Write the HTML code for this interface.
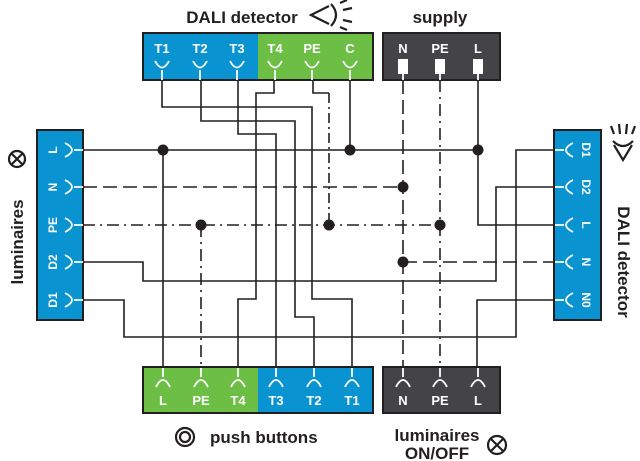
<!DOCTYPE html>
<html><head><style>
html,body{margin:0;padding:0;background:#fff;}
svg{display:block;}
text{font-family:"Liberation Sans",sans-serif;font-weight:bold;}
</style></head><body>
<svg width="640" height="461" viewBox="0 0 640 461" xmlns="http://www.w3.org/2000/svg">
<g fill="none" stroke="#231f20" stroke-width="1.6">
<polyline points="162,80 162,107 312,107 312,299 352,299 352,367"/>
<polyline points="201,80 201,121 295,121 295,317 314,317 314,367"/>
<polyline points="238,80 238,134 276,134 276,367"/>
<polyline points="274,80 274,93 256,93 256,299 238,299 238,367"/>
<polyline points="313,80 313,93 329,93"/>
<line x1="329" y1="93" x2="329" y2="225" stroke-dasharray="10,4,2,4"/>
<polyline points="350,80 350,150"/>
<line x1="83" y1="150" x2="478" y2="150"/>
<line x1="163" y1="150" x2="163" y2="367"/>
<polyline points="478,80 478,225 554,225"/>
<line x1="83" y1="187" x2="403" y2="187" stroke-dasharray="14,6"/>
<line x1="403" y1="80" x2="403" y2="367" stroke-dasharray="14,6"/>
<line x1="403" y1="262" x2="554" y2="262" stroke-dasharray="14,6"/>
<line x1="83" y1="225" x2="440" y2="225" stroke-dasharray="12,5,2,5"/>
<line x1="440" y1="80" x2="440" y2="367" stroke-dasharray="12,5,2,5"/>
<line x1="201" y1="225" x2="201" y2="367" stroke-dasharray="12,5,2,5"/>
<polyline points="83,262 143,262 143,281 496,281 496,187 554,187"/>
<polyline points="83,300 124,300 124,337 516,337 516,150 554,150"/>
<polyline points="554,300 477,300 477,367"/>
</g>
<g fill="#231f20">
<circle cx="163" cy="150" r="5.5"/><circle cx="350" cy="150" r="5.5"/><circle cx="478" cy="150" r="5.5"/>
<circle cx="403" cy="187" r="5.5"/><circle cx="201" cy="225" r="5.5"/><circle cx="329" cy="225" r="5.5"/>
<circle cx="440" cy="225" r="5.5"/><circle cx="403" cy="262" r="5.5"/>
</g>
<rect x="143" y="33" width="115" height="47" fill="#0a93d1"/>
<rect x="258" y="33" width="115" height="47" fill="#6dbe45"/>
<rect x="143" y="33" width="230" height="47" fill="none" stroke="#231f20" stroke-width="2"/>
<rect x="383" y="33" width="117" height="47" fill="#444446" stroke="#231f20" stroke-width="2"/>
<g fill="#fff" font-size="13" text-anchor="middle">
<text x="162" y="53">T1</text><text x="200" y="53">T2</text><text x="237" y="53">T3</text>
<text x="275" y="53">T4</text><text x="312" y="53">PE</text><text x="350" y="53">C</text>
<text x="403" y="53">N</text><text x="440" y="53">PE</text><text x="478" y="53">L</text>
</g>
<g fill="none" stroke="#fff" stroke-width="1.8">
<path d="M155,61 Q162,74 169,61 M162,70 V80"/><path d="M193,61 Q200,74 207,61 M200,70 V80"/>
<path d="M230,61 Q237,74 244,61 M237,70 V80"/><path d="M268,61 Q275,74 282,61 M275,70 V80"/>
<path d="M305,61 Q312,74 319,61 M312,70 V80"/><path d="M343,61 Q350,74 357,61 M350,70 V80"/>
<line x1="403" y1="72" x2="403" y2="80"/><line x1="440" y1="72" x2="440" y2="80"/><line x1="478" y1="72" x2="478" y2="80"/>
</g>
<g fill="#fff"><rect x="398" y="59" width="10" height="15"/><rect x="435" y="59" width="10" height="15"/><rect x="473" y="59" width="10" height="15"/></g>
<rect x="143" y="367" width="115" height="46" fill="#6dbe45"/>
<rect x="258" y="367" width="115" height="46" fill="#0a93d1"/>
<rect x="143" y="367" width="230" height="46" fill="none" stroke="#231f20" stroke-width="2"/>
<rect x="383" y="367" width="117" height="46" fill="#444446" stroke="#231f20" stroke-width="2"/>
<g fill="none" stroke="#fff" stroke-width="1.8">
<path d="M156,387 Q163,373 170,387 M163,377 V368"/><path d="M194,387 Q201,373 208,387 M201,377 V368"/>
<path d="M231,387 Q238,373 245,387 M238,377 V368"/><path d="M269,387 Q276,373 283,387 M276,377 V368"/>
<path d="M307,387 Q314,373 321,387 M314,377 V368"/><path d="M345,387 Q352,373 359,387 M352,377 V368"/>
<path d="M396,387 Q403,373 410,387 M403,377 V368"/><path d="M433,387 Q440,373 447,387 M440,377 V368"/>
<path d="M471,387 Q478,373 485,387 M478,377 V368"/>
</g>
<g fill="#fff" font-size="13" text-anchor="middle">
<text x="163" y="405">L</text><text x="201" y="405">PE</text><text x="238" y="405">T4</text>
<text x="276" y="405">T3</text><text x="314" y="405">T2</text><text x="352" y="405">T1</text>
<text x="403" y="405">N</text><text x="440" y="405">PE</text><text x="478" y="405">L</text>
</g>
<rect x="37" y="130" width="46" height="190" fill="#0a93d1" stroke="#231f20" stroke-width="2"/>
<g fill="none" stroke="#fff" stroke-width="1.8">
<path d="M65,143 Q79,150 65,157 M74,150 H83"/><path d="M65,180 Q79,187 65,194 M74,187 H83"/>
<path d="M65,218 Q79,225 65,232 M74,225 H83"/><path d="M65,255 Q79,262 65,269 M74,262 H83"/>
<path d="M65,293 Q79,300 65,307 M74,300 H83"/>
</g>
<g fill="#fff" font-size="12" text-anchor="middle">
<text transform="translate(57,150) rotate(-90)">L</text><text transform="translate(57,187) rotate(-90)">N</text>
<text transform="translate(57,225) rotate(-90)">PE</text><text transform="translate(57,262) rotate(-90)">D2</text>
<text transform="translate(57,300) rotate(-90)">D1</text>
</g>
<rect x="554" y="130" width="47" height="190" fill="#0a93d1" stroke="#231f20" stroke-width="2"/>
<g fill="none" stroke="#fff" stroke-width="1.8">
<path d="M573,143 Q559,150 573,157 M564,150 H555"/><path d="M573,180 Q559,187 573,194 M564,187 H555"/>
<path d="M573,218 Q559,225 573,232 M564,225 H555"/><path d="M573,255 Q559,262 573,269 M564,262 H555"/>
<path d="M573,293 Q559,300 573,307 M564,300 H555"/>
</g>
<g fill="#fff" font-size="12" text-anchor="middle">
<text transform="translate(582,150) rotate(90)">D1</text><text transform="translate(582,187) rotate(90)">D2</text>
<text transform="translate(582,225) rotate(90)">L</text><text transform="translate(582,262) rotate(90)">N</text>
<text transform="translate(582,300) rotate(90)">N0</text>
</g>
<g fill="#231f20">
<text x="242" y="23" font-size="17" text-anchor="middle">DALI detector</text>
<text x="440" y="23" font-size="17" text-anchor="middle">supply</text>
<text transform="translate(23,242) rotate(-90)" font-size="17" text-anchor="middle">luminaires</text>
<text transform="translate(618,262) rotate(90)" font-size="17" text-anchor="middle">DALI detector</text>
<text x="210" y="443" font-size="17">push buttons</text>
<text x="437" y="441" font-size="17" text-anchor="middle">luminaires</text>
<text x="437" y="459" font-size="17" text-anchor="middle">ON/OFF</text>
</g>
<g fill="none" stroke="#231f20" stroke-width="2.2">
<path d="M329,6 L311,15 L329,24"/><path d="M331,4 Q341,15 331,26"/>
<path d="M340,3 L347,0 M343,10 L352,8 M343,20 L352,22 M340,27 L347,30"/>
<path d="M614,145 L623,160 L632,145"/><path d="M613,141 Q623,151 633,141"/>
<path d="M614,134 L611,126 M620,134 L619,124 M626,134 L627,124 M632,134 L635,126"/>
<circle cx="17" cy="159" r="8"/><path d="M11,153 L23,165 M23,153 L11,165"/>
<circle cx="497" cy="445" r="9"/><path d="M491,439 L503,451 M503,439 L491,451"/>
<circle cx="185" cy="437" r="9"/><circle cx="185" cy="437" r="5"/>
</g>
</svg>
</body></html>
